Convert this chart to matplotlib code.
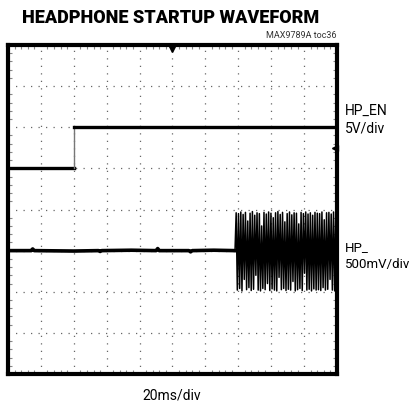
import matplotlib.pyplot as plt
from matplotlib.ticker import MultipleLocator

# time in ms (20 ms/div, 10 div), level in divisions from the bottom (8 div)
en_t = [0, 40, 40, 200]
en_v = [5.0, 5.0, 6.0, 6.0]

hp_t = [0, 14, 15, 16, 40, 55, 56, 57, 75, 90, 91, 92, 110, 111, 112, 125, 138]
hp_v = [3.0, 3.0, 3.04, 3.0, 2.99, 3.0, 2.98, 3.0, 3.01, 3.0, 3.05, 3.0, 3.0, 2.97, 3.0, 3.01, 3.0]

burst_hi = [3.92, 3.90, 3.94, 3.88, 3.93, 3.72, 3.91, 3.95, 3.86, 3.92, 3.90, 3.60,
            3.93, 3.89, 3.94, 3.91, 3.80, 3.92, 3.95, 3.88, 3.93, 3.70, 3.90, 3.94,
            3.87, 3.92, 3.91, 3.65, 3.93, 3.90, 3.94, 3.89, 3.92, 3.86, 3.93, 3.91,
            3.90, 3.94, 3.75, 3.92, 3.93, 3.89, 3.94, 3.90]
burst_lo = [2.04, 2.08, 2.02, 2.30, 2.05, 2.10, 2.03, 2.06, 2.40, 2.04, 2.02, 2.08,
            2.05, 2.20, 2.03, 2.07, 2.04, 2.02, 2.35, 2.05, 2.08, 2.03, 2.06, 2.04,
            2.25, 2.02, 2.05, 2.08, 2.03, 2.45, 2.04, 2.06, 2.02, 2.07, 2.04, 2.05,
            2.03, 2.10, 2.04, 2.06, 2.30, 2.04, 2.02, 2.05]
burst_start, burst_end = 138, 200

burst_v = [3.0]
for hi, lo in zip(burst_hi, burst_lo):
    burst_v += [hi, lo]
step = (burst_end - burst_start) / (len(burst_v) - 1)
burst_t = [burst_start + i * step for i in range(len(burst_v))]

fig = plt.figure(figsize=(4.14, 4.06), dpi=100)
ax = fig.add_axes([8 / 414, 31 / 406, 329 / 414, 329 / 406])

ax.set_xlim(0, 200)
ax.set_ylim(0, 8)
ax.xaxis.set_major_locator(MultipleLocator(20))
ax.yaxis.set_major_locator(MultipleLocator(1))
ax.xaxis.set_minor_locator(MultipleLocator(4))
ax.yaxis.set_minor_locator(MultipleLocator(0.2))
ax.grid(True, which="major", color="#666666", linestyle=(0, (1, 5)), linewidth=0.9)
ax.tick_params(which="both", direction="in", top=True, right=True,
               labelbottom=False, labelleft=False, color="#888888")
ax.tick_params(which="major", length=0)
ax.tick_params(which="minor", length=3, width=0.8)
for s in ax.spines.values():
    s.set_linewidth(3)
    s.set_color("black")

ax.plot(en_t[:2], en_v[:2], color="black", lw=2.4)
ax.plot(en_t[1:3], en_v[1:3], color="#777777", lw=1.0)
ax.plot(en_t[2:], en_v[2:], color="black", lw=2.4)

ax.plot(hp_t, hp_v, color="black", lw=2.6)
ax.plot(burst_t, burst_v, color="black", lw=1.1)
ax.plot([burst_start, burst_end], [3.0, 3.0], color="black", lw=1.5)

# trigger and ground markers
ax.plot([100], [7.93], marker="v", color="black", ms=6, clip_on=False)
ax.plot([198.5], [5.5], marker="<", color="black", ms=5, clip_on=False)

fig.text(171 / 414, 1 - 18 / 406, "HEADPHONE STARTUP WAVEFORM", ha="center", va="center",
         fontsize=13, fontweight="black", family=["Roboto", "DejaVu Sans"])
fig.text(337 / 414, 1 - 36 / 406, "MAX9789A toc36", ha="right", va="center",
         fontsize=6.5, family=["Roboto", "DejaVu Sans"], color="#333333")
fig.text(345 / 414, 1 - 120 / 406, "HP_EN\n5V/div", ha="left", va="center",
         fontsize=10, linespacing=1.3, family=["Roboto", "DejaVu Sans"])
fig.text(345 / 414, 1 - 256 / 406, "HP_\n500mV/div", ha="left", va="center",
         fontsize=9.5, linespacing=1.35, family=["Roboto", "DejaVu Sans"])
fig.text(172 / 414, 1 - 396 / 406, "20ms/div", ha="center", va="center",
         fontsize=10, family=["Roboto", "DejaVu Sans"])

fig.savefig("out.png", dpi=100)
